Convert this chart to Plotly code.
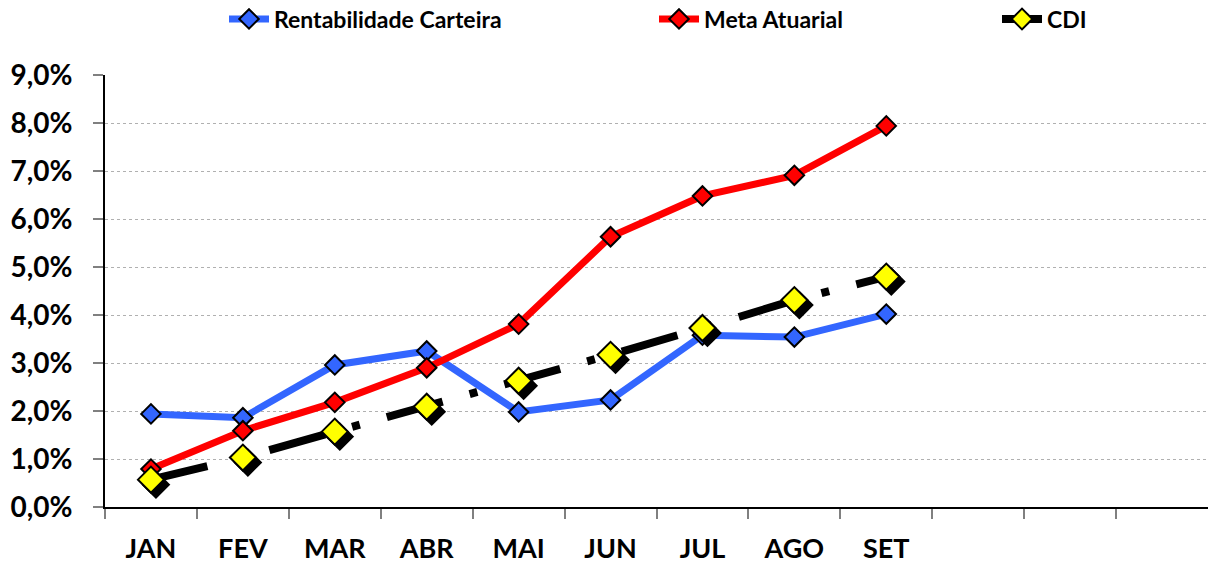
import plotly.graph_objects as go

months = ["JAN", "FEV", "MAR", "ABR", "MAI", "JUN", "JUL", "AGO", "SET"]
n_slots = 12
rentabilidade = [1.94, 1.86, 2.96, 3.25, 1.98, 2.23, 3.58, 3.54, 4.02]
meta = [0.79, 1.59, 2.18, 2.90, 3.81, 5.63, 6.48, 6.91, 7.94]
cdi = [0.57, 1.03, 1.57, 2.09, 2.63, 3.17, 3.73, 4.31, 4.80]
y_ticks = [0, 1, 2, 3, 4, 5, 6, 7, 8, 9]
y_tick_labels = [f"{v:.1f}%".replace(".", ",") for v in y_ticks]

W, H = 1208, 565
ML, MR, MT, MB = 105, 0, 75, 58
plot_w = W - ML - MR
plot_h = H - MT - MB
px_x = plot_w / n_slots
px_y = plot_h / (y_ticks[-1] - y_ticks[0])

x = list(range(len(months)))
shadow_dx = 5 / px_x
shadow_dy = 5 / px_y

FONT = "Lato"
fig = go.Figure()

fig.add_trace(go.Scatter(
    x=x, y=rentabilidade, mode="lines+markers", name="Rentabilidade Carteira",
    line=dict(color="#3366FF", width=7),
    marker=dict(symbol="diamond", size=15, color="#3366FF", line=dict(color="black", width=2)),
    legend="legend",
))
fig.add_trace(go.Scatter(
    x=x, y=meta, mode="lines+markers", name="Meta Atuarial",
    line=dict(color="#FF0000", width=7),
    marker=dict(symbol="diamond", size=15, color="#FF0000", line=dict(color="black", width=2)),
    legend="legend2",
))
fig.add_trace(go.Scatter(
    x=[v + shadow_dx for v in x], y=[v - shadow_dy for v in cdi], mode="markers",
    marker=dict(symbol="diamond", size=20, color="black", line=dict(color="black", width=2)),
    showlegend=False, hoverinfo="skip",
))
fig.add_trace(go.Scatter(
    x=x, y=cdi, mode="lines+markers", name="CDI",
    line=dict(color="black", width=8, dash="58px,28px,8px,28px"),
    marker=dict(symbol="diamond", size=20, color="#FFFF00", line=dict(color="black", width=2)),
    legend="legend3",
))

boundaries = [i - 0.5 for i in range(n_slots)]

legend_common = dict(orientation="h", xref="container", yref="container",
                     xanchor="left", yanchor="middle",
                     font=dict(family=FONT, size=23, weight="bold"),
                     bgcolor="rgba(0,0,0,0)", itemwidth=40)

fig.update_layout(
    width=W, height=H,
    margin=dict(l=ML, r=MR, t=MT, b=MB, autoexpand=False),
    paper_bgcolor="white", plot_bgcolor="white",
    font=dict(family=FONT, color="black", weight="bold"),
    xaxis=dict(
        range=[-0.5, n_slots - 0.5], tickmode="array", tickvals=x, ticktext=months,
        ticks="", showgrid=False, zeroline=False, automargin=False,
        showline=True, linecolor="black", linewidth=2,
        tickfont=dict(family=FONT, size=27, color="black", weight="bold"),
        ticklabelstandoff=17,
        minor=dict(tickmode="array", tickvals=boundaries, ticks="outside", ticklen=10,
                   tickcolor="#808080", tickwidth=2, showgrid=False),
    ),
    yaxis=dict(
        range=[y_ticks[0], y_ticks[-1]], tickmode="array", tickvals=y_ticks,
        ticktext=y_tick_labels, automargin=False,
        ticks="outside", ticklen=10, tickcolor="#808080", tickwidth=2,
        showgrid=True, gridcolor="#B0B0B0", gridwidth=1, griddash="dot",
        zeroline=False, showline=True, linecolor="black", linewidth=2,
        tickfont=dict(family=FONT, size=28, color="black", weight="bold"),
        ticklabelstandoff=15,
    ),
    legend=dict(legend_common, x=224 / W, y=1 - 19 / H),
    legend2=dict(legend_common, x=654 / W, y=1 - 19 / H),
    legend3=dict(legend_common, x=997 / W, y=1 - 19 / H),
)

fig.write_html("out.html", config={"displayModeBar": False},
               post_script="document.body.style.margin='0px';")
